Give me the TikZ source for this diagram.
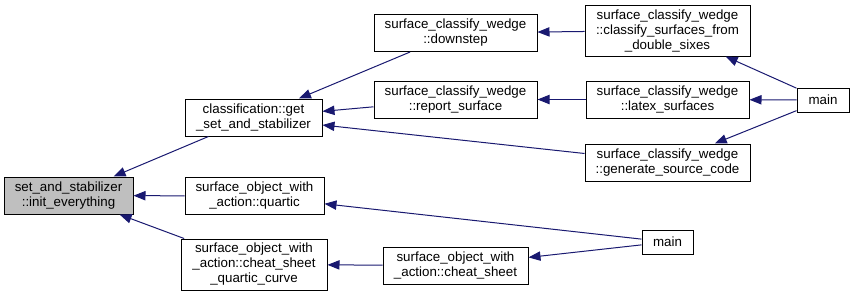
\documentclass[tikz,border=0pt]{standalone}
\usepackage{fontspec}
\setmainfont{Liberation Sans}
\usetikzlibrary{arrows.meta}

\begin{document}
\begin{tikzpicture}[x=0.75pt, y=-0.75pt,
    fn/.style={draw=black, line width=0.75pt, fill=white, align=center,
      inner sep=0pt, minimum height=27.75pt,
      font=\fontsize{10pt}{11.25pt}\selectfont},
    call/.style={draw=edgeblue, line width=0.75pt, -{Triangle[length=9pt, width=7pt]}}]
    \definecolor{edgeblue}{HTML}{191970}
    \useasboundingbox (0, 0) rectangle (854, 297);

    % the function itself and the ones calling it
    \node [fn, fill=black!25, minimum width=96.75pt] (init) at (68.5, 195.5)
      {set\_and\_stabilizer\\::init\_everything};
    \node [fn, minimum width=102.75pt] (getset) at (253.5, 117.5)
      {classification::get\\\_set\_and\_stabilizer};
    \node [fn, minimum width=104.25pt] (quartic) at (254.5, 196)
      {surface\_object\_with\\\_action::quartic};
    \node [fn, minimum width=109.5pt, minimum height=38.25pt] (sheetcurve) at (254, 264.5)
      {surface\_object\_with\\\_action::cheat\_sheet\\\_quartic\_curve};

    % second level
    \node [fn, minimum width=122.25pt] (downstep) at (455.5, 33)
      {surface\_classify\_wedge\\::downstep};
    \node [fn, minimum width=122.25pt] (report) at (455.5, 99.5)
      {surface\_classify\_wedge\\::report\_surface};
    \node [fn, minimum width=108.75pt] (sheet) at (455.5, 265.5)
      {surface\_object\_with\\\_action::cheat\_sheet};

    % third level
    \node [fn, minimum width=123.75pt, minimum height=38.25pt] (classify) at (667.5, 30.5)
      {surface\_classify\_wedge\\::classify\_surfaces\_from\\\_double\_sixes};
    \node [fn, minimum width=122.25pt] (latex) at (667.5, 99.5)
      {surface\_classify\_wedge\\::latex\_surfaces};
    \node [fn, minimum width=123.75pt] (gencode) at (667.5, 162.5)
      {surface\_classify\_wedge\\::generate\_source\_code};
    \node [fn, minimum width=39pt, minimum height=18pt] (mainA) at (823, 100) {main};
    \node [fn, minimum width=38.25pt, minimum height=18pt] (mainB) at (667.5, 242) {main};

    % calls, arrow at the callee
    \draw [call] (getset) -- (init);
    \draw [call] (quartic) -- (init);
    \draw [call] (sheetcurve) -- (init);
    \draw [call] (downstep) -- (getset);
    \draw [call] (report) -- (getset);
    \draw [call] (gencode) -- (getset);
    \draw [call] (classify) -- (downstep);
    \draw [call] (latex) -- (report);
    \draw [call] (mainA) -- (classify);
    \draw [call] (mainA) -- (latex);
    \draw [call] (mainA) -- (gencode);
    \draw [call] (mainB) -- (quartic);
    \draw [call] (mainB) -- (sheet);
    \draw [call] (sheet) -- (sheetcurve);
\end{tikzpicture}
\end{document}
